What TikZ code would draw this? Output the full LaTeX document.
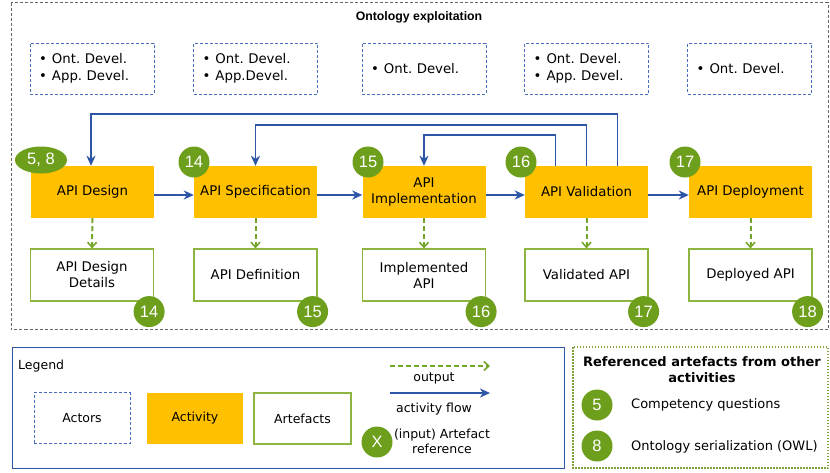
\documentclass[tikz,border=0pt]{standalone}
\usepackage{fontspec}
\setmainfont{DejaVu Sans}
\newfontfamily\arialfont{Liberation Sans}
\usetikzlibrary{arrows.meta,calc,shapes.geometric}
\definecolor{actorblue}{HTML}{4A6EBF}
\definecolor{flowblue}{HTML}{2E56A6}
\definecolor{actorange}{HTML}{FFC000}
\definecolor{badgegreen}{HTML}{6E9F1C}
\definecolor{artgreen}{HTML}{8DB540}
\definecolor{outgreen}{HTML}{74A62A}
\definecolor{framegray}{HTML}{666666}
\frenchspacing
\begin{document}
\frenchspacing
\begin{tikzpicture}[x=1pt,y=-1pt,
  every node/.style={inner sep=0pt},
  actorbox/.style={draw=actorblue, line width=1pt, dash pattern=on 3pt off 2pt,
     minimum width=124pt, minimum height=51pt, text width=106pt, inner xsep=9pt,
     align=left, font=\fontsize{13.3}{17}\selectfont},
  activitybox/.style={fill=actorange, minimum width=123pt, minimum height=52pt,
     align=center, font=\fontsize{13.3}{16}\selectfont},
  artefactbox/.style={draw=artgreen, line width=1.2pt, fill=white,
     minimum width=123pt, minimum height=52pt, align=center,
     font=\fontsize{13.3}{16}\selectfont},
  badge/.style={circle, fill=badgegreen, text=white, minimum size=31pt,
     font=\arialfont\fontsize{16.5}{16.5}\selectfont},
  flowarrow/.style={draw=flowblue, line width=1.8pt,
     -{Stealth[length=10pt,width=9pt,inset=3pt]}},
  outarrow/.style={draw=outgreen, line width=2pt, dash pattern=on 5pt off 3pt,
     -{Straight Barb[length=5pt,width=9pt,line width=1.6pt]}},
  legtext/.style={font=\fontsize{12.5}{15}\selectfont, align=center},
  reftext/.style={font=\fontsize{13}{16}\selectfont, anchor=west},
]
\useasboundingbox (0,0) rectangle (830,472);

% outer frame
\draw[framegray, line width=1pt, dash pattern=on 3pt off 2pt] (11,2.5) rectangle (828,329);
\node[font=\arialfont\bfseries\fontsize{12.3}{14}\selectfont] (title) at (419,17) {Ontology exploitation};

% actors
\newcommand\blt{\makebox[13pt][l]{\textbullet}}
\node[actorbox] (act1) at (92,68.5) {\blt Ont. Devel.\\\blt App. Devel.};
\node[actorbox] (act2) at (255.5,68.5) {\blt Ont. Devel.\\\blt App.Devel.};
\node[actorbox] (act3) at (424,68.5) {\blt Ont. Devel.};
\node[actorbox] (act4) at (586.5,68.5) {\blt Ont. Devel.\\\blt App. Devel.};
\node[actorbox] (act5) at (749.5,68.5) {\blt Ont. Devel.};

% activities
\node[activitybox] (design) at (92.5,192) {API Design};
\node[activitybox] (spec) at (255.5,192) {API Specification};
\node[activitybox] (impl) at (424,192) {API\\Implementation};
\node[activitybox] (val) at (586.5,192) {API Validation};
\node[activitybox] (dep) at (750.5,192) {API Deployment};

% artefacts
\node[artefactbox] (art1) at (92,275) {API Design\\Details};
\node[artefactbox] (art2) at (255.5,275) {API Definition};
\node[artefactbox] (art3) at (424,275) {Implemented\\API};
\node[artefactbox] (art4) at (586.5,275) {Validated API};
\node[artefactbox] (art5) at (750.5,275) {Deployed API};

% activity flow
\draw[flowarrow] ([yshift=-3pt]design.east) -- ([yshift=-3pt]spec.west);
\draw[flowarrow] ([yshift=-3pt]spec.east) -- ([yshift=-3pt]impl.west);
\draw[flowarrow] ([yshift=-3pt]impl.east) -- ([yshift=-3pt]val.west);
\draw[flowarrow] ([yshift=-3pt]val.east) -- ([yshift=-3pt]dep.west);
\draw[flowarrow] ([xshift=31pt]val.north) -- ++(0,-52) -| ([xshift=-1.5pt]design.north);
\draw[flowarrow] (val.north) -- ++(0,-41) -| (spec.north);
\draw[flowarrow] ([xshift=-31pt]val.north) -- ++(0,-31) -| (impl.north);

% outputs
\draw[outarrow] (design.south) -- (art1.north);
\draw[outarrow] (spec.south) -- (art2.north);
\draw[outarrow] (impl.south) -- (art3.north);
\draw[outarrow] (val.south) -- (art4.north);
\draw[outarrow] (dep.south) -- (art5.north);

% input badges
\node[badge, ellipse, minimum width=52pt, minimum height=27pt] (b58) at (41,160) {5, 8};
\node[badge] (b14a) at (194,162) {14};
\node[badge] (b15a) at (368,162) {15};
\node[badge] (b16a) at (521,162) {16};
\node[badge] (b17a) at (685,162) {17};

% output badges
\node[badge] (b14) at ($(art1.south east)+(-5,10)$) {14};
\node[badge] (b15) at ($(art2.south east)+(-5,10)$) {15};
\node[badge] (b16) at ($(art3.south east)+(-5,10)$) {16};
\node[badge] (b17) at ($(art4.south east)+(-5,10)$) {17};
\node[badge] (b18) at ($(art5.south east)+(-5,10)$) {18};

% legend
\draw[flowblue, line width=1pt] (12,347) rectangle (564,468);
\node[legtext, anchor=west] (legtitle) at (18,366) {Legend};
\node[actorbox, minimum width=96pt, text width=78pt, align=center, minimum height=51pt,
      font=\fontsize{12.5}{15}\selectfont] (lact) at (82,418) {Actors};
\node[activitybox, minimum width=96pt, minimum height=51pt,
      font=\fontsize{12.5}{15}\selectfont] (lactv) at (195,418.5) {Activity};
\node[artefactbox, minimum width=97pt, minimum height=51pt,
      font=\fontsize{12.5}{15}\selectfont] (lart) at (302.5,418.5) {Artefacts};
\coordinate (o1) at (390,366);
\coordinate (o2) at (490,366);
\draw[outarrow] (o1) -- (o2);
\node[legtext] (louttxt) at (434,378) {output};
\coordinate (f1) at (390,393);
\coordinate (f2) at (490,393);
\draw[flowarrow] (f1) -- (f2);
\node[legtext] (lflowtxt) at (434,409) {activity flow};
\node[badge] (lx) at (377,442) {X};
\node[legtext] (lxtxt) at (442,441.5) {(input) Artefact\\reference};

% referenced artefacts
\draw[artgreen!90!black, line width=1.5pt, dash pattern=on 1.5pt off 1.5pt] (573,347) rectangle (828,468);
\node[font=\bfseries\fontsize{13}{16}\selectfont, align=center] (reftitle) at (702,370)
  {Referenced artefacts from other\\activities};
\node[badge] (r5) at (597,405) {5};
\node[reftext] (r5txt) at (631,405) {Competency questions};
\node[badge] (r8) at (597,446) {8};
\node[reftext] (r8txt) at (631,447) {Ontology serialization (OWL)};
\end{tikzpicture}
\end{document}
